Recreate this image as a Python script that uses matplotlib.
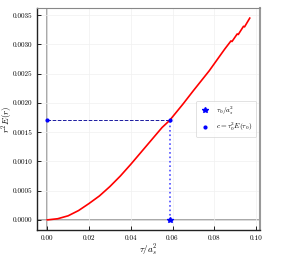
import numpy as np
import matplotlib
matplotlib.use("Agg")
import matplotlib.pyplot as plt

plt.rcParams['font.family'] = 'serif'
plt.rcParams['font.serif'] = ['cmr10']
plt.rcParams['mathtext.fontset'] = 'cm'
plt.rcParams['axes.formatter.use_mathtext'] = True

# curve r^2 E(r) against tau / a_s^2
tau = [0.0, 0.005, 0.01, 0.015, 0.02, 0.025, 0.03, 0.035, 0.04, 0.045,
       0.05, 0.055, 0.0586, 0.065, 0.07, 0.0776, 0.085, 0.088, 0.0885,
       0.091, 0.0915, 0.094, 0.0945, 0.097]
r2E = [0.0, 0.00002, 0.00007, 0.00016, 0.00028, 0.00041, 0.00057, 0.00075,
       0.00095, 0.00116, 0.00137, 0.00158, 0.0017, 0.00198, 0.00221, 0.00255,
       0.00292, 0.00306, 0.00305, 0.00318, 0.00317, 0.00331, 0.00330, 0.00345]

tau0 = 0.0586
c_val = 0.0017

fig = plt.figure(figsize=(2.97, 2.59), dpi=100)
ax = fig.add_axes([0.125, 0.112, 0.75, 0.857])

ax.grid(True, color='#f0f0f0', linewidth=0.5)
ax.axhline(0, color='#999999', linewidth=1.2, zorder=1)
ax.axvline(0, color='#999999', linewidth=1.2, zorder=1)

ax.plot(tau, r2E, color='red', linewidth=1.2, zorder=3)
ax.plot([0, tau0], [c_val, c_val], color='#1a1aa0', linestyle='--', linewidth=0.7, zorder=2)
ax.plot([tau0, tau0], [0, c_val], color='#4d4dff', linestyle=':', linewidth=1.2, zorder=2)

ax.plot([tau0], [0], linestyle='none', marker='*', color='blue', markersize=4,
        label=r'$\tau_0/a_s^2$', zorder=4)
ax.plot([tau0, 0], [c_val, c_val], linestyle='none', marker='o', color='blue',
        markersize=2, label=r'$c=\tau_0^2 E(\tau_0)$', zorder=4)

ax.set_xticks([0.0, 0.02, 0.04, 0.06, 0.08, 0.10])
ax.set_yticks([0.0, 0.0005, 0.001, 0.0015, 0.002, 0.0025, 0.003, 0.0035])
ax.xaxis.set_major_formatter(matplotlib.ticker.FormatStrFormatter('%.2f'))
ax.yaxis.set_major_formatter(matplotlib.ticker.FormatStrFormatter('%.4f'))
ax.tick_params(direction='in', labelsize=5.2, length=3, width=0.6, top=False, right=False)

ax.set_xlabel(r'$\tau/a_s^2$', fontsize=6.5)
ax.set_ylabel(r'$r^2E(r)$', fontsize=6.5)
ax.xaxis.set_label_coords(0.5, -0.055)
ax.yaxis.set_label_coords(-0.10, 0.5)

for s in ['left', 'bottom']:
    ax.spines[s].set_color('#222222')
    ax.spines[s].set_linewidth(1.0)
ax.spines['top'].set_color('#888888')
ax.spines['top'].set_linewidth(0.8)
ax.spines['right'].set_color('#999999')
ax.spines['right'].set_linewidth(1.5)

leg = ax.legend(loc='center right', fontsize=5.2, frameon=True, handlelength=1.5,
                borderpad=0.5, labelspacing=0.6)
leg.get_frame().set_linewidth(0.5)
leg.get_frame().set_edgecolor('#cccccc')

fig.savefig("out.png", dpi=100)
